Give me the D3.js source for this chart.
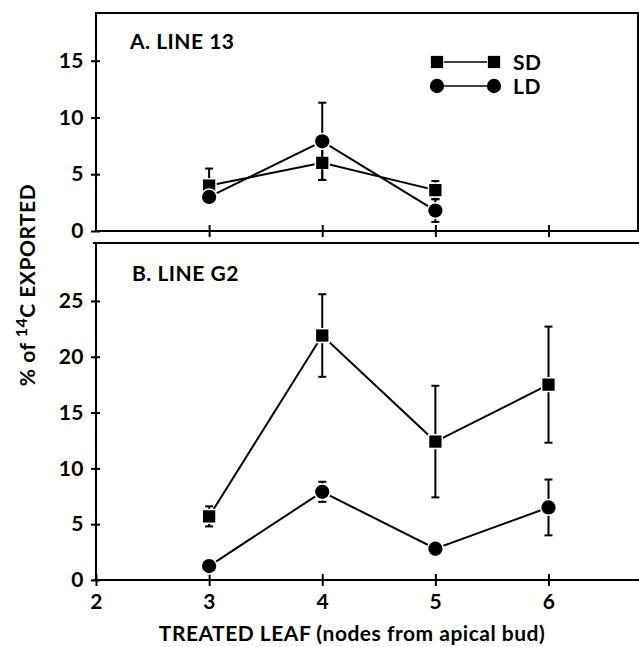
<!DOCTYPE html>
<html>
<head>
<meta charset="utf-8">
<script src="https://cdn.jsdelivr.net/npm/d3@7"></script>
<style>
  body { margin: 0; background: white; }
  text { font-family: Lato, "DejaVu Sans", sans-serif; font-weight: bold; fill: black; letter-spacing: 0.5px; }
</style>
</head>
<body>
<svg width="639" height="647"></svg>
<script>
// data (x = treated leaf, nodes from apical bud)
var leavesA  = [3, 4, 5];
var sdA      = [4.0, 6.0, 3.6];
var sdErrA   = [1.5, 1.5, 0.8];
var ldA      = [3.0, 7.9, 1.8];
var ldErrA   = [0.3, 3.4, 1.0];

var leavesB  = [3, 4, 5, 6];
var sdB      = [5.7, 21.9, 12.4, 17.5];
var sdErrB   = [0.9, 3.7, 5.0, 5.2];
var ldB      = [1.25, 7.9, 2.8, 6.5];
var ldErrB   = [0, 0.9, 0, 2.5];

var xTicks   = [2, 3, 4, 5, 6];
var yTicksA  = [0, 5, 10, 15];
var yTicksB  = [0, 5, 10, 15, 20, 25];

var svg = d3.select("svg");
var fs = "21px";

var x = d3.scaleLinear().domain([2, 6.8]).range([96, 639]);
var yA = d3.scaleLinear().domain([0, 19.2]).range([231, 13]);
var yB = d3.scaleLinear().domain([0, 30.1]).range([580, 244]);

// crossing ticks, like the printed figure
function crossTicks(g, dir) {
  g.select(".domain").remove();
  if (dir == "y") g.selectAll(".tick line").attr("x1", 4).attr("x2", -5);
  else g.selectAll(".tick line").attr("y1", -6).attr("y2", 6);
  g.selectAll(".tick line").attr("stroke", "black").attr("stroke-width", 2);
  g.selectAll(".tick text").style("font-size", fs).attr("fill", "black");
}

// ---- panel A frame
svg.append("rect")
  .attr("x", 96).attr("y", 13)
  .attr("width", 542).attr("height", 218)
  .attr("fill", "none").attr("stroke", "black").attr("stroke-width", 2);

svg.append("g")
  .attr("transform", "translate(96,0)")
  .call(d3.axisLeft(yA).tickValues(yTicksA).tickSize(5).tickPadding(7))
  .call(crossTicks, "y");

svg.append("g")
  .attr("transform", "translate(0,231)")
  .call(d3.axisBottom(x).tickValues([3, 4, 5, 6]).tickFormat("").tickSize(6))
  .call(crossTicks, "x");

// ---- panel B frame
svg.append("line").attr("x1", 93).attr("x2", 639).attr("y1", 243).attr("y2", 243)
  .attr("stroke", "black").attr("stroke-width", 2);
svg.append("line").attr("x1", 96).attr("x2", 96).attr("y1", 243).attr("y2", 581)
  .attr("stroke", "black").attr("stroke-width", 2);
svg.append("line").attr("x1", 93).attr("x2", 639).attr("y1", 580).attr("y2", 580)
  .attr("stroke", "black").attr("stroke-width", 2);

svg.append("g")
  .attr("transform", "translate(96,0)")
  .call(d3.axisLeft(yB).tickValues(yTicksB).tickSize(5).tickPadding(7))
  .call(crossTicks, "y");

svg.append("g")
  .attr("transform", "translate(0,580)")
  .call(d3.axisBottom(x).tickValues(xTicks).tickFormat(d3.format("d")).tickSize(6).tickPadding(8))
  .call(crossTicks, "x");

// ---- series
function drawSeries(leaves, vals, errs, y, shape) {
  var pts = leaves.map(function(d, i) { return { x: d, v: vals[i], e: errs[i] }; });
  var g = svg.append("g");

  g.append("path")
    .datum(pts)
    .attr("fill", "none").attr("stroke", "black").attr("stroke-width", 2)
    .attr("d", d3.line().x(function(d) { return x(d.x); }).y(function(d) { return y(d.v); }));

  var eb = g.selectAll(".err").data(pts.filter(function(d) { return d.e > 0; }))
    .enter().append("g").attr("stroke", "black").attr("stroke-width", 2);
  eb.append("line")
    .attr("x1", function(d) { return x(d.x); }).attr("x2", function(d) { return x(d.x); })
    .attr("y1", function(d) { return y(d.v + d.e); }).attr("y2", function(d) { return y(Math.max(0, d.v - d.e)); });
  eb.append("line")
    .attr("x1", function(d) { return x(d.x) - 4; }).attr("x2", function(d) { return x(d.x) + 4; })
    .attr("y1", function(d) { return y(d.v + d.e); }).attr("y2", function(d) { return y(d.v + d.e); });
  eb.append("line")
    .attr("x1", function(d) { return x(d.x) - 4; }).attr("x2", function(d) { return x(d.x) + 4; })
    .attr("y1", function(d) { return y(Math.max(0, d.v - d.e)); }).attr("y2", function(d) { return y(Math.max(0, d.v - d.e)); });

  var sym = d3.symbol().type(shape == "square" ? d3.symbolSquare : d3.symbolCircle).size(shape == "square" ? 150 : 160);
  g.selectAll(".mk").data(pts).enter().append("path")
    .attr("d", sym)
    .attr("transform", function(d) { return "translate(" + x(d.x) + "," + y(d.v) + ")"; })
    .attr("fill", "black").attr("stroke", "white").attr("stroke-width", 3)
    .attr("paint-order", "stroke");
}

drawSeries(leavesA, sdA, sdErrA, yA, "square");
drawSeries(leavesA, ldA, ldErrA, yA, "circle");
drawSeries(leavesB, sdB, sdErrB, yB, "square");
drawSeries(leavesB, ldB, ldErrB, yB, "circle");

// ---- panel titles
svg.append("text").attr("x", 130).attr("y", 49).style("font-size", fs).text("A. LINE 13");
svg.append("text").attr("x", 132).attr("y", 281).style("font-size", fs).text("B. LINE G2");

// ---- legend
var legend = [{ name: "SD", shape: d3.symbolSquare, size: 150, y: 62 },
              { name: "LD", shape: d3.symbolCircle, size: 160, y: 86 }];
var lg = svg.append("g").selectAll("g").data(legend).enter().append("g");
lg.append("line").attr("x1", 444).attr("x2", 487)
  .attr("y1", function(d) { return d.y; }).attr("y2", function(d) { return d.y; })
  .attr("stroke", "black").attr("stroke-width", 1.5);
[437, 494].forEach(function(px) {
  lg.append("path")
    .attr("d", function(d) { return d3.symbol().type(d.shape).size(d.size)(); })
    .attr("transform", function(d) { return "translate(" + px + "," + d.y + ")"; })
    .attr("fill", "black");
});
lg.append("text").attr("x", 513).attr("y", function(d) { return d.y + 8; })
  .style("font-size", fs).text(function(d) { return d.name; });

// ---- axis labels
svg.append("text")
  .attr("x", 352).attr("y", 641)
  .attr("text-anchor", "middle")
  .style("font-size", fs)
  .text("TREATED LEAF (nodes from apical bud)");

var yl = svg.append("text")
  .attr("transform", "translate(35,285) rotate(-90)")
  .attr("text-anchor", "middle")
  .style("font-size", fs);
yl.append("tspan").text("% of ");
yl.append("tspan").attr("dy", -8).style("font-size", "16px").text("14");
yl.append("tspan").attr("dy", 8).text("C EXPORTED");
</script>
</body>
</html>
